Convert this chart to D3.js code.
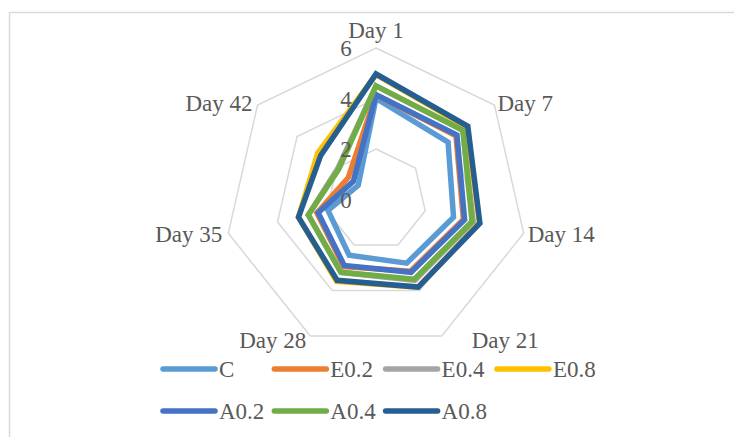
<!DOCTYPE html>
<html>
<head>
  <meta charset="utf-8">
  <title>Radar chart</title>
  <script src="https://d3js.org/d3.v7.min.js"></script>
  <style type="text/css">
    body { margin: 0; background: #fff; }
    svg { font-family: "Liberation Serif", "Times New Roman", serif; }
    svg text { fill: #595959; }
  </style>
</head>
<body>
  <div id="chart"></div>
  <script type="text/javascript">
    // axes and values
    var days = ["Day 1", "Day 7", "Day 14", "Day 21", "Day 28", "Day 35", "Day 42"];
    var seriesNames = ["C", "E0.2", "E0.4", "E0.8", "A0.2", "A0.4", "A0.8"];
    var seriesColors = ["#5b9bd5", "#ed7d31", "#a5a5a5", "#ffc000", "#4472c4", "#70ad47", "#255e91"];
    var tickValues = [0, 2, 4, 6];

    var C    = [4.0, 3.65, 3.15, 2.8, 2.45, 1.95, 0.9];
    var E02  = [4.15, 4.05, 3.55, 3.15, 2.95, 2.4, 1.4];
    var E04  = [4.5, 4.4, 3.95, 3.55, 3.2, 2.75, 1.95];
    var E08  = [4.95, 4.6, 4.2, 3.85, 3.6, 3.15, 2.95];
    var A02  = [4.15, 4.1, 3.6, 3.2, 2.9, 2.35, 1.15];
    var A04  = [4.5, 4.4, 3.9, 3.5, 3.2, 2.75, 1.9];
    var A08  = [4.97, 4.65, 4.22, 3.85, 3.55, 3.15, 2.8];
    var allValues = [C, E02, E04, E08, A02, A04, A08];

    var width = 734, height = 437;
    var cx = 376, cy = 199.5;
    var fontSize = "23px";

    var svg = d3.select("#chart").append("svg")
      .attr("width", width)
      .attr("height", height);

    // chart area border (clipped by the window on the right / bottom)
    svg.append("path")
      .attr("d", "M9.5," + height + "V12.5H" + width)
      .attr("fill", "none")
      .attr("stroke", "#d9d9d9")
      .attr("stroke-width", 1.5);

    var r = d3.scaleLinear().domain([0, 6]).range([0, 151.5]);
    var angle = d3.scalePoint().domain(days).range([0, 2 * Math.PI * 6 / 7]);

    function pt(day, v) {
      var a = angle(day);
      return [cx + r(v) * Math.sin(a), cy - r(v) * Math.cos(a)];
    }

    var g = svg.append("g");

    // grid heptagons
    tickValues.filter(function (t) { return t > 0; }).forEach(function (t) {
      g.append("path")
        .attr("d", d3.line()(days.map(function (d) { return pt(d, t); })) + "Z")
        .attr("fill", "none")
        .attr("stroke", "#d9d9d9")
        .attr("stroke-width", 1.5);
    });

    // series
    var line = d3.line();
    seriesNames.forEach(function (name, i) {
      var vals = allValues[i];
      g.append("path")
        .attr("d", line(days.map(function (d, j) { return pt(d, vals[j]); })) + "Z")
        .attr("fill", "none")
        .attr("stroke", seriesColors[i])
        .attr("stroke-width", 5.5)
        .attr("stroke-linejoin", "miter");
    });

    // tick labels (drawn over the series, like the original)
    g.selectAll(".tick").data(tickValues).enter().append("text")
      .attr("x", cx - 30)
      .attr("y", function (d) { return cy - r(d); })
      .attr("dy", "0.35em")
      .attr("text-anchor", "middle")
      .style("font-size", fontSize)
      .text(function (d) { return d; });

    // axis labels
    var labelOpts = {
      "Day 1":  { anchor: "middle", dx: 0,  dy: -18 },
      "Day 7":  { anchor: "start",  dx: 3,  dy: -2 },
      "Day 14": { anchor: "start",  dx: 4,  dy: 1 },
      "Day 21": { anchor: "start",  dx: 30, dy: 4 },
      "Day 28": { anchor: "end",    dx: -4, dy: 4 },
      "Day 35": { anchor: "end",    dx: -6, dy: 1 },
      "Day 42": { anchor: "end",    dx: -5, dy: -2 }
    };
    g.selectAll(".axlabel").data(days).enter().append("text")
      .attr("x", function (d) { return pt(d, 6)[0] + labelOpts[d].dx; })
      .attr("y", function (d) { return pt(d, 6)[1] + labelOpts[d].dy; })
      .attr("text-anchor", function (d) { return labelOpts[d].anchor; })
      .attr("dy", "0.35em")
      .style("font-size", fontSize)
      .text(function (d) { return d; });

    // legend
    var legend = svg.append("g");
    seriesNames.forEach(function (name, i) {
      var col = i < 4 ? i : i - 4;
      var row = i < 4 ? 0 : 1;
      var x0 = 163 + col * 111.3;
      var y0 = 369 + row * 42;
      legend.append("line")
        .attr("x1", x0).attr("x2", x0 + 52)
        .attr("y1", y0).attr("y2", y0)
        .attr("stroke", seriesColors[i])
        .attr("stroke-width", 5.5)
        .attr("stroke-linecap", "round");
      legend.append("text")
        .attr("x", x0 + 56)
        .attr("y", y0)
        .attr("dy", "0.35em")
        .style("font-size", fontSize)
        .text(name);
    });
  </script>
</body>
</html>
